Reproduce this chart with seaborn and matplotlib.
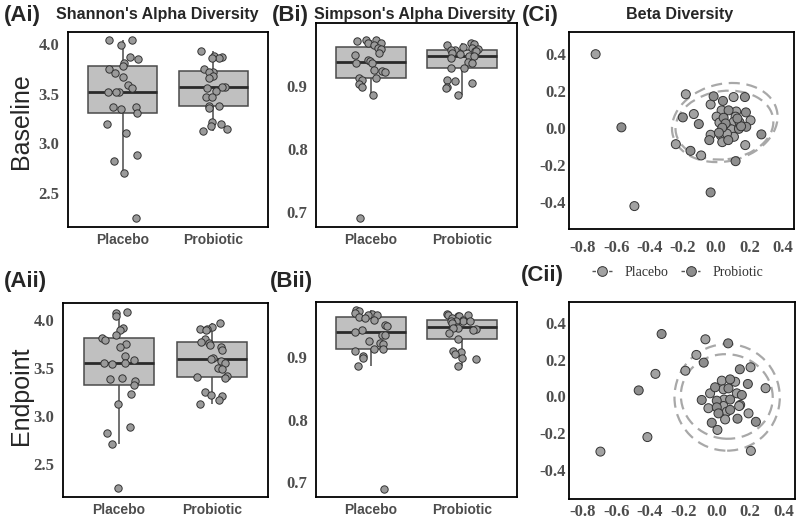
import numpy as np
import pandas as pd
import seaborn as sns
import matplotlib.pyplot as plt
from matplotlib.patches import Ellipse
from matplotlib.lines import Line2D

# --------------------------
# Estilo
# --------------------------
sns.set_style('white')
plt.rcParams['font.family'] = ['Liberation Sans', 'DejaVu Sans']
np.random.seed(7)

GRUPOS = ['Placebo', 'Probiotic']
CORES = {'Placebo': '#a2a2a2', 'Probiotic': '#8e8e8e'}
SERIF = 'Liberation Serif'
CINZA_TXT = '#4d4d4d'

# --------------------------
# Dados
# --------------------------
# Shannon - baseline / endpoint
shannon_base_placebo = [4.04, 4.04, 3.99, 3.87, 3.85, 3.81, 3.78, 3.75, 3.71, 3.67, 3.59, 3.56, 3.52,
                        3.52, 3.52, 3.37, 3.37, 3.35, 3.31, 3.20, 3.10, 2.88, 2.82, 2.70, 2.25]
shannon_base_probiotic = [3.93, 3.88, 3.87, 3.86, 3.86, 3.75, 3.72, 3.72, 3.68, 3.66, 3.57, 3.57, 3.56,
                          3.53, 3.47, 3.47, 3.38, 3.38, 3.36, 3.22, 3.20, 3.18, 3.15, 3.12]
shannon_end_placebo = [4.09, 4.08, 4.04, 3.92, 3.90, 3.85, 3.82, 3.79, 3.75, 3.72, 3.63, 3.59, 3.56,
                       3.56, 3.55, 3.40, 3.39, 3.37, 3.33, 3.23, 3.13, 2.89, 2.83, 2.71, 2.25]
shannon_end_probiotic = [3.97, 3.93, 3.91, 3.91, 3.90, 3.80, 3.77, 3.76, 3.74, 3.72, 3.69, 3.61, 3.60,
                         3.58, 3.56, 3.50, 3.49, 3.42, 3.41, 3.40, 3.25, 3.22, 3.21, 3.17, 3.13]

# Simpson - baseline / endpoint
simpson_base_placebo = [0.973, 0.971, 0.973, 0.968, 0.968, 0.965, 0.960, 0.959, 0.952, 0.949, 0.941, 0.939,
                        0.936, 0.936, 0.925, 0.923, 0.922, 0.913, 0.909, 0.913, 0.903, 0.898, 0.886, 0.690]
simpson_base_probiotic = [0.968, 0.966, 0.965, 0.962, 0.960, 0.958, 0.957, 0.957, 0.956, 0.956, 0.953, 0.950,
                          0.948, 0.948, 0.944, 0.938, 0.937, 0.929, 0.928, 0.909, 0.908, 0.905, 0.899,
                          0.897, 0.885]
simpson_end_placebo = [0.975, 0.974, 0.971, 0.969, 0.968, 0.967, 0.964, 0.962, 0.959, 0.951, 0.950, 0.943,
                       0.940, 0.936, 0.935, 0.925, 0.922, 0.921, 0.913, 0.913, 0.909, 0.902, 0.898, 0.886,
                       0.689]
simpson_end_probiotic = [0.969, 0.968, 0.968, 0.966, 0.966, 0.963, 0.960, 0.958, 0.958, 0.957, 0.957, 0.955,
                         0.948, 0.947, 0.946, 0.945, 0.944, 0.938, 0.929, 0.910, 0.908, 0.905, 0.898,
                         0.897, 0.885]

# Beta (PCoA) - baseline
beta_base_placebo_x = [-0.724, -0.491, -0.182, -0.134, -0.242, -0.090, -0.033, 0.105, 0.033, 0.121, 0.003,
                       0.117, 0.207, 0.105, 0.071, -0.033, 0.093, 0.029, 0.107, 0.037, 0.175, 0.065, 0.020]
beta_base_placebo_y = [0.400, -0.422, 0.183, 0.076, -0.087, -0.148, 0.128, 0.168, 0.096, 0.090, 0.062,
                       0.062, 0.042, 0.033, 0.002, -0.036, -0.007, -0.040, -0.047, -0.076, -0.092, -0.030, 0.030]
beta_base_probiotic_x = [-0.569, -0.033, -0.200, -0.104, -0.154, -0.015, 0.041, 0.173, 0.075, 0.179, 0.045,
                         0.141, 0.057, 0.037, 0.181, 0.017, 0.137, 0.073, -0.041, 0.272, 0.117, 0.150, 0.128]
beta_base_probiotic_y = [0.004, -0.348, 0.058, 0.022, -0.123, 0.172, 0.147, 0.168, 0.096, 0.085, 0.056,
                         0.031, 0.025, 0.002, 0.007, -0.025, -0.004, -0.065, -0.065, -0.034, -0.179, 0.010, 0.052]

# Beta (PCoA) - endpoint
beta_end_placebo_x = [-0.696, -0.367, -0.415, -0.068, -0.122, -0.188, 0.202, 0.292, 0.030, 0.110, 0.040,
                      0.120, -0.040, 0.044, 0.140, -0.050, 0.040, 0.134, 0.060, 0.050, 0.190, 0.004, 0.204]
beta_end_placebo_y = [-0.300, 0.123, -0.221, 0.311, 0.226, 0.140, 0.159, 0.045, 0.086, 0.080, 0.039,
                      0.017, 0.017, -0.017, -0.046, -0.064, -0.052, -0.052, -0.083, -0.125, -0.092, -0.182, -0.296]
beta_end_probiotic_x = [-0.330, -0.467, 0.068, -0.078, 0.138, 0.186, 0.080, -0.010, 0.070, 0.150, 0.000,
                        0.080, -0.090, 0.000, 0.080, 0.010, -0.030, 0.124, 0.234]
beta_end_probiotic_y = [0.340, 0.033, 0.289, 0.184, 0.148, 0.068, 0.093, 0.050, 0.044, 0.008, -0.023,
                        -0.017, -0.019, -0.059, -0.073, -0.092, -0.143, -0.121, -0.138]

# Elipses (centro x, centro y, largura, altura, angulo) - Placebo, Probiotic
elip_base_cx = [0.052, 0.050]
elip_base_cy = [0.030, 0.016]
elip_base_w = [0.64, 0.59]
elip_base_h = [0.42, 0.37]
elip_base_ang = [10, 6]
elip_end_cx = [0.062, 0.060]
elip_end_cy = [-0.005, 0.000]
elip_end_w = [0.63, 0.55]
elip_end_h = [0.58, 0.46]
elip_end_ang = [0, -4]

# --------------------------
# Figura e eixos (posicoes em pixels da referencia)
# --------------------------
W, H = 800, 523
fig = plt.figure(figsize=(W / 100, H / 100), dpi=100)


def eixo(x0, y0, x1, y1):
    return fig.add_axes([x0 / W, 1 - y1 / H, (x1 - x0) / W, (y1 - y0) / H])


ax_ai = eixo(68, 32, 268, 227)
ax_bi = eixo(316, 23, 517, 227)
ax_ci = eixo(569, 32, 794, 229)
ax_aii = eixo(63, 303, 268, 497)
ax_bii = eixo(316, 302, 517, 497)
ax_cii = eixo(569, 302, 795, 499)


def moldura(ax):
    for sp in ax.spines.values():
        sp.set_visible(True)
        sp.set_color('black')
        sp.set_linewidth(1.3)
    ax.set_xlabel('')
    ax.set_ylabel('')


def painel_box(ax, placebo, probiotic, ylim, yticks):
    df = pd.DataFrame({'Grupo': ['Placebo'] * len(placebo) + ['Probiotic'] * len(probiotic),
                       'Valor': placebo + probiotic})
    sns.boxplot(data=df, x='Grupo', y='Valor', order=GRUPOS, ax=ax, width=0.76, color='#c0c0c0',
                saturation=1, showfliers=False, showcaps=False, linecolor='#4a4a4a', linewidth=1.1,
                medianprops={'color': '#2a2a2a', 'linewidth': 2.0})
    sns.stripplot(data=df, x='Grupo', y='Valor', order=GRUPOS, ax=ax, jitter=0.18, size=5.3,
                  color='#9a9a9a', edgecolor='#333333', linewidth=0.7, zorder=3)
    ax.set_xlim(-0.6, 1.6)
    ax.set_ylim(*ylim)
    ax.set_yticks(yticks)
    ax.set_yticklabels([f'{t:.1f}' for t in yticks], fontfamily=SERIF, fontweight='bold',
                       fontsize=12, color=CINZA_TXT)
    ax.set_xticks([0, 1])
    ax.set_xticklabels(GRUPOS, fontweight='bold', fontsize=10, color=CINZA_TXT)
    ax.tick_params(axis='y', length=0, pad=6)
    ax.tick_params(axis='x', length=0, pad=4)
    moldura(ax)


def painel_beta(ax, pl_x, pl_y, pr_x, pr_y, cx, cy, w, h, ang, ylim, xpad):
    df = pd.DataFrame({'PC1': pl_x + pr_x, 'PC2': pl_y + pr_y,
                       'Grupo': ['Placebo'] * len(pl_x) + ['Probiotic'] * len(pr_x)})
    for i in range(len(cx)):
        ax.add_patch(Ellipse((cx[i], cy[i]), w[i], h[i], angle=ang[i], fill=False,
                             edgecolor='#a8a8a8', linestyle=(0, (5, 3)), linewidth=1.6, zorder=1))
    sns.scatterplot(data=df, x='PC1', y='PC2', hue='Grupo', palette=CORES, s=42,
                    edgecolor='#333333', linewidth=0.7, legend=False, ax=ax, zorder=2)
    ax.set_xlim(-0.884, 0.468)
    ax.set_ylim(*ylim)
    xt = [-0.8, -0.6, -0.4, -0.2, 0.0, 0.2, 0.4]
    yt = [-0.4, -0.2, 0.0, 0.2, 0.4]
    ax.set_xticks(xt)
    ax.set_xticklabels([f'{t:.1f}' for t in xt], fontfamily=SERIF, fontweight='bold',
                       fontsize=12, color=CINZA_TXT)
    ax.set_yticks(yt)
    ax.set_yticklabels([f'{t:.1f}' for t in yt], fontfamily=SERIF, fontweight='bold',
                       fontsize=12, color=CINZA_TXT)
    ax.tick_params(axis='y', length=0, pad=2)
    ax.tick_params(axis='x', length=0, pad=xpad)
    moldura(ax)


painel_box(ax_ai, shannon_base_placebo, shannon_base_probiotic, (2.16, 4.12), [2.5, 3.0, 3.5, 4.0])
painel_box(ax_aii, shannon_end_placebo, shannon_end_probiotic, (2.16, 4.18), [2.5, 3.0, 3.5, 4.0])
painel_box(ax_bi, simpson_base_placebo, simpson_base_probiotic, (0.676, 1.0), [0.7, 0.8, 0.9])
painel_box(ax_bii, simpson_end_placebo, simpson_end_probiotic, (0.676, 0.988), [0.7, 0.8, 0.9])
painel_beta(ax_ci, beta_base_placebo_x, beta_base_placebo_y, beta_base_probiotic_x, beta_base_probiotic_y,
            elip_base_cx, elip_base_cy, elip_base_w, elip_base_h, elip_base_ang, (-0.546, 0.52), 8)
painel_beta(ax_cii, beta_end_placebo_x, beta_end_placebo_y, beta_end_probiotic_x, beta_end_probiotic_y,
            elip_end_cx, elip_end_cy, elip_end_w, elip_end_h, elip_end_ang, (-0.558, 0.514), 3.5)

# --------------------------
# Textos: rotulos dos paineis, titulos e linhas
# --------------------------
def ftxt(x, y, s, **kw):
    fig.text(x / W, 1 - y / H, s, va='center', **kw)


for lbl, x, y in [('(Ai)', 4, 16), ('(Bi)', 272, 15), ('(Ci)', 522, 16),
                  ('(Aii)', 4, 281), ('(Bii)', 270, 282), ('(Cii)', 521, 276)]:
    ftxt(x, y, lbl, ha='left', fontsize=16, fontweight='bold')

ftxt(157, 15, "Shannon's Alpha Diversity", ha='center', fontsize=11.5, fontweight='bold')
ftxt(415, 14, "Simpson's Alpha Diversity", ha='center', fontsize=11.5, fontweight='bold')
ftxt(680, 14, 'Beta Diversity', ha='center', fontsize=11.5, fontweight='bold')

ftxt(21, 121, 'Baseline', ha='center', rotation=90, fontsize=18)
ftxt(21, 396, 'Endpoint', ha='center', rotation=90, fontsize=18)

# Legenda
handles = [Line2D([], [], color='#555555', linestyle=(0, (2.5, 1.5)), linewidth=1.0, marker='o',
                  markersize=7, markerfacecolor=CORES[g], markeredgecolor='#333333', markeredgewidth=0.7)
           for g in GRUPOS]
fig.legend(handles, GRUPOS, loc='center', bbox_to_anchor=(678 / W, 1 - 272 / H), ncol=2, frameon=False,
           prop={'family': SERIF, 'size': 10}, labelcolor='#333333', handlelength=1.4,
           handletextpad=0.9, columnspacing=0.9)

fig.savefig('out.png', dpi=100)
